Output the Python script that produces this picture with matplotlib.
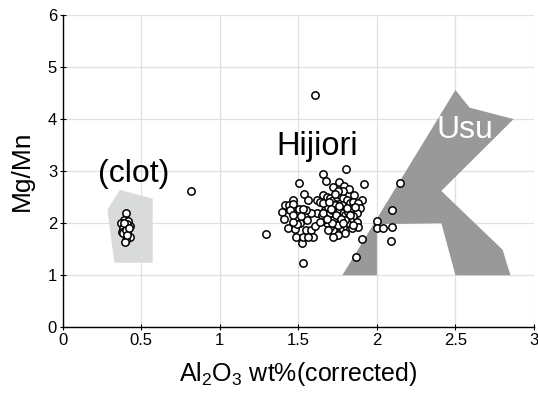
import numpy as np
import matplotlib
matplotlib.use("Agg")
import matplotlib.pyplot as plt
from matplotlib.patches import Polygon

plt.rcParams['font.family'] = ['Liberation Sans', 'DejaVu Sans']
plt.rcParams['mathtext.fontset'] = 'custom'
plt.rcParams['mathtext.rm'] = 'Liberation Sans'

# Usu field outline (Al2O3, Mg/Mn)
usu_x = [1.78, 2.50, 2.59, 2.87, 2.41, 2.80, 2.85, 2.50, 2.41, 2.00, 2.00]
usu_y = [1.00, 4.56, 4.22, 4.00, 2.62, 1.49, 1.00, 1.00, 2.00, 1.98, 1.00]

# clot field outline
clot_x = [0.365, 0.573, 0.573, 0.329, 0.284]
clot_y = [2.64, 2.47, 1.24, 1.24, 2.26]

# clot analyses
clot_al = [0.403, 0.390, 0.418, 0.369, 0.428, 0.386, 0.376, 0.407, 0.428, 0.403,
           0.397, 0.411, 0.385, 0.400, 0.410, 0.392, 0.420]
clot_mgmn = [2.20, 2.06, 2.05, 2.00, 1.95, 1.90, 1.83, 1.81, 1.74, 1.68,
             1.63, 1.99, 1.82, 1.86, 1.78, 2.00, 1.90]

# Hijiori analyses
hij_al = [1.608, 0.817, 1.294, 1.530, 1.867, 2.147, 2.098, 2.098, 2.090, 2.003,
          2.003, 2.040, 1.907, 1.918, 1.806, 1.657, 1.676, 1.504, 1.536, 1.561,
          1.761, 1.723, 1.789, 1.820, 1.852, 1.905,
          1.466, 1.415, 1.443, 1.468, 1.394, 1.409, 1.432, 1.481, 1.483, 1.523,
          1.532, 1.547, 1.579, 1.591, 1.564, 1.606, 1.617, 1.579, 1.549, 1.553,
          1.509, 1.492, 1.466, 1.494, 1.504, 1.530, 1.447, 1.468, 1.515,
          1.617, 1.638, 1.659, 1.680, 1.702, 1.723, 1.744, 1.765, 1.787, 1.808,
          1.829, 1.850, 1.882, 1.893, 1.871, 1.850, 1.829, 1.808, 1.787, 1.765,
          1.744, 1.723, 1.702, 1.680, 1.659, 1.648, 1.670, 1.691, 1.712, 1.733,
          1.755, 1.776, 1.797, 1.818, 1.840, 1.861, 1.871, 1.882, 1.840, 1.797,
          1.755, 1.723, 1.691, 1.638, 1.659, 1.702, 1.744, 1.765, 1.723, 1.744,
          1.733, 1.712, 1.776, 1.808, 1.829, 1.850, 1.797, 1.755, 1.712, 1.680,
          1.787, 1.755, 1.733, 1.659, 1.693, 1.706, 1.740, 1.770, 1.782, 1.761]
hij_mgmn = [4.46, 2.61, 1.79, 1.24, 1.36, 2.78, 2.25, 1.93, 1.66, 2.05,
            1.91, 1.91, 1.70, 2.76, 3.05, 2.95, 2.82, 2.78, 2.57, 2.44,
            2.80, 2.70, 2.72, 2.65, 2.55, 2.44,
            2.45, 2.35, 2.35, 2.37, 2.21, 2.08, 1.90, 1.88, 1.74, 1.61,
            1.74, 1.87, 1.87, 1.74, 1.74, 1.95, 2.19, 2.19, 2.25, 2.06,
            2.01, 1.98, 2.03, 2.19, 2.27, 2.27, 2.25, 2.16, 2.13,
            2.45, 2.41, 2.54, 2.51, 2.48, 2.45, 2.51, 2.54, 2.48, 2.45,
            2.38, 2.41, 2.38, 2.29, 2.19, 2.13, 2.06, 2.00, 1.93, 1.87,
            1.81, 1.87, 1.93, 2.00, 2.06, 2.16, 2.25, 2.32, 2.35, 2.29,
            2.25, 2.19, 2.16, 2.22, 2.29, 2.32, 2.03, 1.93, 1.90, 1.81,
            1.77, 1.74, 1.87, 2.03, 2.19, 2.19, 2.13, 2.06, 2.06, 2.25,
            2.35, 2.25, 2.35, 2.29, 2.16, 1.97, 2.06, 1.97, 2.00, 2.09,
            2.61, 2.61, 2.57, 2.38, 2.40, 2.27, 2.15, 2.09, 2.00, 2.33]

fig = plt.figure(figsize=(5.38, 3.95), dpi=100)
ax = fig.add_axes([0.1165, 0.1714, 0.8761, 0.7906])

ax.add_patch(Polygon(list(zip(usu_x, usu_y)), closed=True,
                     facecolor='#999999', edgecolor='none', zorder=2))
ax.add_patch(Polygon(list(zip(clot_x, clot_y)), closed=True,
                     facecolor='#d9dbda', edgecolor='none', zorder=2))

ax.scatter(hij_al, hij_mgmn, s=28, facecolor='white', edgecolor='black',
           linewidth=1.1, zorder=3)
ax.scatter(clot_al, clot_mgmn, s=28, facecolor='white', edgecolor='black',
           linewidth=1.1, zorder=3)

ax.text(0.45, 2.95, '(clot)', fontsize=23, ha='center', va='center', zorder=4)
ax.text(1.62, 3.47, 'Hijiori', fontsize=23.5, ha='center', va='center', zorder=4)
ax.text(2.56, 3.79, 'Usu', fontsize=23, color='white', ha='center', va='center', zorder=4)

ax.set_xlim(0, 3)
ax.set_ylim(0, 6)
ax.set_xticks([0, 0.5, 1, 1.5, 2, 2.5, 3])
ax.set_xticklabels(['0', '0.5', '1', '1.5', '2', '2.5', '3'])
ax.set_yticks([0, 1, 2, 3, 4, 5, 6])
ax.grid(True, color='#e0e0e0', linewidth=0.9, zorder=0)
ax.set_axisbelow(True)
for side in ['top', 'right']:
    ax.spines[side].set_visible(False)
for side in ['left', 'bottom']:
    ax.spines[side].set_linewidth(1.0)
ax.tick_params(direction='inout', length=4, width=0.8, labelsize=12, pad=2)

ax.set_xlabel(r'Al$_\mathregular{2}$O$_\mathregular{3}$ wt%(corrected)', fontsize=18, labelpad=9)
ax.set_ylabel('Mg/Mn', fontsize=19, labelpad=10)

fig.savefig('out.png', dpi=100)
